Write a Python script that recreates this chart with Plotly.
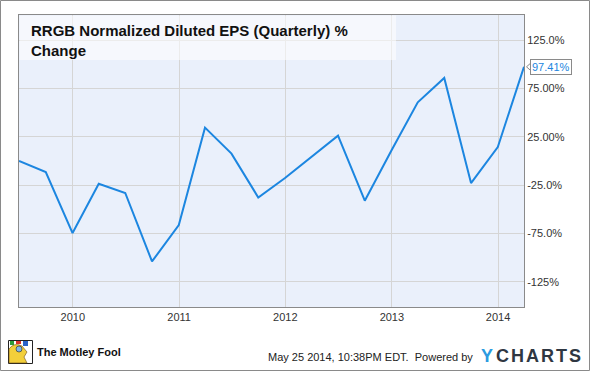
import plotly.graph_objects as go

# ---- data ----
dates = ["2009-06-30", "2009-09-30", "2009-12-31", "2010-03-31", "2010-06-30",
         "2010-09-30", "2010-12-31", "2011-03-31", "2011-06-30", "2011-09-30",
         "2011-12-31", "2012-03-31", "2012-06-30", "2012-09-30", "2012-12-31",
         "2013-03-31", "2013-06-30", "2013-09-30", "2013-12-31", "2014-03-31"]
eps_change = [0.0, -11.4, -74.5, -23.5, -33.1,
              -103.9, -66.3, 34.5, 7.6, -37.7,
              -17.6, 4.3, 26.2, -41.1, 11.2,
              60.7, 85.9, -22.8, 14.5, 97.41]
y_tick_vals = [125, 75, 25, -25, -75, -125]
y_tick_text = ["125.0%", "75.00%", "25.00%", "-25.0%", "-75.0%", "-125%"]
x_tick_vals = ["2010-01-01", "2011-01-01", "2012-01-01", "2013-01-01", "2014-01-01"]
x_tick_text = ["2010", "2011", "2012", "2013", "2014"]
title_text = "<b>RRGB Normalized Diluted EPS (Quarterly) %<br>Change</b>"
footer_text = "May 25 2014, 10:38PM EDT.  Powered by"

# ---- layout geometry ----
W, H = 590, 371
L, R, T, B = 19, 66, 15, 64
PW, PH = W - L - R, H - T - B
Y_MIN, Y_MAX = -151, 151
FONT = "Liberation Sans, Arial, sans-serif"
LINE_COLOR = "#1c86e0"


def px(x):
    return (x - L) / PW


def py(y):
    return (H - B - y) / PH


fig = go.Figure()
fig.add_trace(go.Scatter(x=dates, y=eps_change, mode="lines",
                         line=dict(color=LINE_COLOR, width=2),
                         hoverinfo="skip", showlegend=False))

shapes = []
# outer frame
shapes.append(dict(type="rect", xref="paper", yref="paper",
                   x0=px(0.5), x1=px(W - 0.5), y0=py(H - 0.5), y1=py(0.5),
                   line=dict(color="#8a8a8a", width=1), layer="below"))
# translucent title box
shapes.append(dict(type="rect", xref="paper", yref="paper",
                   x0=px(L + 0.5), x1=px(396), y0=py(60), y1=py(T + 0.6),
                   fillcolor="rgba(255,255,255,0.55)", line=dict(width=0),
                   layer="above"))
# callout notch at last value
last_y_paper = (eps_change[-1] - Y_MIN) / (Y_MAX - Y_MIN)
shapes.append(dict(type="path", xref="paper", yref="paper",
                   xsizemode="pixel", ysizemode="pixel",
                   xanchor=1.0, yanchor=last_y_paper,
                   path="M 7,4 L 2.5,0 L 7,-4 Z",
                   fillcolor="white", line=dict(color="#8a8a8a", width=1)))
# Motley Fool logo (approximation)
shapes += [
    dict(type="rect", xref="paper", yref="paper", x0=px(8.5), x1=px(32.5),
         y0=py(363.5), y1=py(340.5), fillcolor="white",
         line=dict(color="#222", width=1)),
    dict(type="path", xref="paper", yref="paper",
         path=f"M {px(9)},{py(363)} L {px(9)},{py(349)} Q {px(14)},{py(342)} {px(22)},{py(346)} "
              f"L {px(27)},{py(352)} L {px(24)},{py(357)} L {px(27)},{py(363)} Z",
         fillcolor="#f2cf3a", line=dict(color="#6b4a1a", width=0.6)),
    dict(type="rect", xref="paper", yref="paper", x0=px(10), x1=px(14),
         y0=py(345), y1=py(341), fillcolor="#2e9b3a", line=dict(width=0)),
    dict(type="rect", xref="paper", yref="paper", x0=px(16), x1=px(21),
         y0=py(344), y1=py(341), fillcolor="#d8302a", line=dict(width=0)),
    dict(type="rect", xref="paper", yref="paper", x0=px(23), x1=px(28),
         y0=py(346), y1=py(341), fillcolor="#2a62c9", line=dict(width=0)),
    dict(type="circle", xref="paper", yref="paper", x0=px(16), x1=px(22),
         y0=py(352), y1=py(346), fillcolor="#7fb6e8",
         line=dict(color="#222", width=0.6)),
]

annotations = [
    dict(text=title_text, xref="paper", yref="paper", x=px(29), y=py(20),
         xanchor="left", yanchor="top", align="left", showarrow=False,
         font=dict(family=FONT, size=15, color="#111")),
    dict(text=f"{eps_change[-1]:.2f}%", x=dates[-1], y=eps_change[-1],
         xref="x", yref="y", xanchor="left", yanchor="middle", xshift=6,
         showarrow=False, bgcolor="white", bordercolor="#8a8a8a",
         borderwidth=1, borderpad=1,
         font=dict(family=FONT, size=11, color=LINE_COLOR)),
    dict(text=footer_text, xref="paper", yref="paper", x=px(475), y=py(357),
         xanchor="right", yanchor="middle", showarrow=False,
         font=dict(family=FONT, size=11, color="#222")),
    dict(text="<b>The Motley Fool</b>", xref="paper", yref="paper",
         x=px(35), y=py(352), xanchor="left", yanchor="middle",
         showarrow=False, font=dict(family=FONT, size=11, color="#111")),
]
# YCHARTS wordmark, letter-spaced
letters = list("YCHARTS")
letter_x = [479, 494, 509, 524, 539, 554, 567]
for ch, lx in zip(letters, letter_x):
    annotations.append(dict(text=f"<b>{ch}</b>", xref="paper", yref="paper",
                            x=px(lx), y=py(356), xanchor="left",
                            yanchor="middle", showarrow=False,
                            font=dict(family=FONT, size=18,
                                      color="#2c9be0" if ch == "Y" else "#2f3742")))

fig.update_layout(
    width=W, height=H,
    margin=dict(l=L, r=R, t=T, b=B, pad=0),
    paper_bgcolor="white", plot_bgcolor="#eaf0fb",
    font=dict(family=FONT, size=11, color="#333"),
    shapes=shapes, annotations=annotations,
    xaxis=dict(type="date", range=[dates[0], dates[-1]],
               tickvals=x_tick_vals, ticktext=x_tick_text,
               showgrid=True, gridcolor="#d5d5d5", gridwidth=1,
               showline=True, linecolor="#8a8a8a", linewidth=1, mirror=True,
               ticks="", tickfont=dict(size=11, color="#333"), zeroline=False),
    yaxis=dict(range=[Y_MIN, Y_MAX], side="right",
               tickvals=y_tick_vals, ticktext=y_tick_text,
               showgrid=True, gridcolor="#d5d5d5", gridwidth=1,
               showline=True, linecolor="#8a8a8a", linewidth=1, mirror=True,
               ticks="", tickfont=dict(size=11, color="#333"), zeroline=False),
)

fig.write_html("out.html",
               config={"displayModeBar": False, "staticPlot": True},
               post_script="document.body.style.margin='0px';"
                           "document.body.style.overflow='hidden';")
